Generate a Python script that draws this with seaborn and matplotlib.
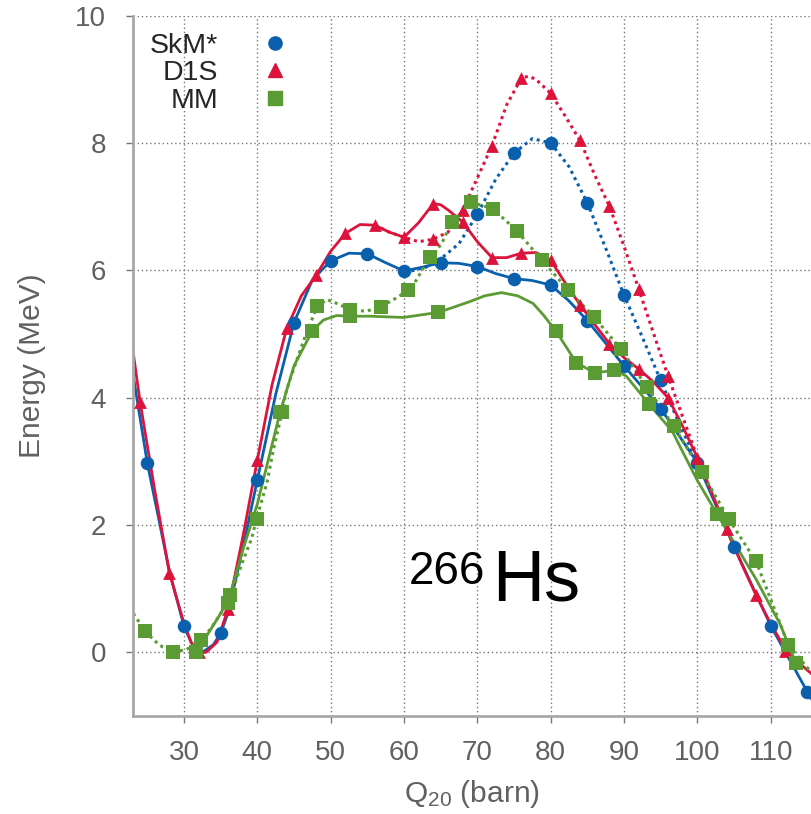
import seaborn as sns
import matplotlib.pyplot as plt
import pandas as pd
from matplotlib.lines import Line2D

# --- markers ---
skm_x = [25, 30, 35, 40, 45, 50, 55, 60, 65, 70, 75, 80, 85, 90, 95, 100, 105, 110, 115]
skm_y = [2.97, 0.41, 0.30, 2.71, 5.18, 6.15, 6.26, 5.99, 6.12, 6.06, 5.87, 5.77, 5.21, 4.50, 3.83, 2.98, 1.66, 0.42, -0.62]
skm_alt_x = [70, 75, 80, 85, 90, 95]
skm_alt_y = [6.88, 7.84, 8.00, 7.06, 5.61, 4.27]

d1s_x = [24, 28, 32, 36, 40, 44, 48, 52, 56, 60, 64, 68, 72, 76, 80, 84, 88, 92, 96, 100, 104, 108, 112]
d1s_y = [3.94, 1.25, 0.0, 0.68, 3.02, 5.09, 5.92, 6.58, 6.71, 6.52, 7.05, 6.76, 6.20, 6.27, 6.16, 5.46, 4.85, 4.45, 4.00, 3.06, 1.93, 0.90, 0.02]
d1s_alt_x = [64, 68, 72, 76, 80, 84, 88, 92, 96]
d1s_alt_y = [6.49, 6.95, 7.96, 9.02, 8.78, 8.04, 7.01, 5.71, 4.34]

mm_x = [31.7, 36.3, 43.1, 47.5, 52.7, 64.7, 80.7, 83.5, 86.0, 88.7, 93.4, 102.7, 113.4]
mm_y = [0.0, 0.90, 3.77, 5.05, 5.28, 5.35, 5.05, 4.55, 4.39, 4.43, 3.90, 2.17, -0.16]
mm_alt_x = [24.7, 28.5, 32.3, 36.0, 39.9, 43.4, 48.2, 52.7, 56.9, 60.6, 63.5, 66.5, 69.1, 72.1,
            75.4, 78.8, 82.4, 85.9, 89.6, 93.1, 96.8, 100.6, 104.3, 108.0, 112.4]
mm_alt_y = [0.33, 0.01, 0.19, 0.77, 2.10, 3.78, 5.44, 5.37, 5.43, 5.69, 6.21, 6.76, 7.07, 6.97,
            6.62, 6.16, 5.69, 5.27, 4.76, 4.17, 3.55, 2.83, 2.09, 1.43, 0.12]

# --- curves ---
skm_line_x = [23, 25, 28, 30, 31, 32.5, 34, 35, 36, 38, 40, 42.5, 45, 47.5, 50, 52.5, 55, 57.5, 60, 62.5,
              65, 67.5, 70, 72.5, 75, 77.5, 80, 82.5, 85, 90, 95, 100, 105, 110, 115, 116]
skm_line_y = [4.40, 2.97, 1.28, 0.41, 0.15, 0.0, 0.12, 0.30, 0.62, 1.62, 2.71, 4.05, 5.18, 5.85, 6.15, 6.27,
              6.26, 6.12, 5.99, 6.05, 6.12, 6.11, 6.06, 5.95, 5.87, 5.84, 5.77, 5.52, 5.21, 4.50, 3.83,
              2.98, 1.66, 0.42, -0.62, -0.82]
skm_dot_x = [61, 63, 65, 67.5, 70, 72.5, 75, 77.5, 80, 82.5, 85, 87.5, 90, 92.5, 95, 97.5, 100]
skm_dot_y = [5.99, 6.05, 6.18, 6.42, 6.88, 7.43, 7.84, 8.07, 8.00, 7.63, 7.06, 6.35, 5.61, 4.95, 4.27, 3.6, 2.98]

d1s_line_x = [23, 24, 26, 28, 30, 31, 32, 33, 34.5, 36, 38, 40, 42, 44, 46, 48, 50, 52, 54, 56, 58, 60,
              62, 64, 65, 66, 68, 70, 72, 74, 76, 78, 80, 82, 84, 86, 88, 90, 92, 94, 96, 98, 100,
              102, 104, 106, 108, 110, 112, 114, 116]
d1s_line_y = [4.77, 3.94, 2.55, 1.25, 0.45, 0.15, 0.0, 0.0, 0.16, 0.68, 1.8, 3.02, 4.2, 5.09, 5.6, 5.92,
              6.3, 6.58, 6.72, 6.71, 6.6, 6.52, 6.75, 7.05, 7.03, 6.95, 6.76, 6.45, 6.20, 6.20, 6.27,
              6.28, 6.16, 5.8, 5.46, 5.15, 4.85, 4.63, 4.45, 4.25, 4.00, 3.55, 3.06, 2.5, 1.93, 1.4,
              0.90, 0.45, 0.05, -0.18, -0.38]
d1s_dot_x = [56, 58, 60, 62, 64, 66, 68, 70, 72, 74, 76, 77, 78, 80, 82, 84, 86, 88, 90, 92, 94, 96, 98, 100]
d1s_dot_y = [6.71, 6.6, 6.52, 6.45, 6.49, 6.6, 6.95, 7.45, 7.96, 8.6, 9.02, 9.05, 9.0, 8.78, 8.42, 8.04,
             7.5, 7.01, 6.38, 5.71, 5.02, 4.34, 3.7, 3.06]

mm_line_x = [31.7, 33.8, 35.1, 36.3, 38, 40, 43.1, 45, 47.5, 49, 50.8, 52.7, 55.3, 59.9, 64.7, 69, 71,
             73.3, 75.5, 77.6, 79, 80.7, 83.5, 86.0, 88.7, 90.3, 93.4, 96.6, 98, 100, 102.7, 105.3,
             108, 111.3, 113.4]
mm_line_y = [0.0, 0.39, 0.63, 0.91, 1.6, 2.33, 3.77, 4.5, 5.05, 5.22, 5.29, 5.28, 5.28, 5.26, 5.34, 5.51,
             5.6, 5.65, 5.6, 5.48, 5.3, 5.05, 4.55, 4.39, 4.43, 4.34, 3.90, 3.47, 3.15, 2.70, 2.17,
             1.67, 1.15, 0.44, -0.16]
mm_dot_x = [23.1, 24.7, 26, 27, 28.5, 30.3, 32.3, 33.7, 35, 36, 38.1, 39.2, 39.9, 41.3, 42.2, 43.4, 44,
            45.4, 46.7, 48.2, 49.5, 51.3, 52.7, 54.9, 56.9, 59, 60.6, 61.7, 63.5, 64.4, 65.3, 66.5,
            69.1, 72.1, 75.4, 78.8, 82.4, 85.9, 89.6, 93.1, 96.8, 100.6, 104.3, 108.0, 112.4, 115.5]
mm_dot_y = [0.61, 0.33, 0.18, 0.09, 0.01, 0.04, 0.19, 0.38, 0.61, 0.77, 1.46, 1.78, 2.10, 2.66, 3.19,
            3.78, 4.13, 4.60, 5.02, 5.44, 5.54, 5.46, 5.37, 5.36, 5.43, 5.57, 5.69, 5.85, 6.21, 6.30,
            6.46, 6.76, 7.07, 6.97, 6.62, 6.16, 5.69, 5.27, 4.76, 4.17, 3.55, 2.83, 2.09, 1.43, 0.12, -0.31]

names = ["SkM*", "D1S", "MM"]
colors = {"SkM*": "#0a60ad", "D1S": "#dc143c", "MM": "#5b9b34"}
markers = {"SkM*": "o", "D1S": "^", "MM": "s"}

sns.set_style("white")
plt.rcParams["font.family"] = ["Liberation Sans", "DejaVu Sans"]
plt.rcParams["mathtext.fontset"] = "custom"
plt.rcParams["mathtext.rm"] = "Liberation Sans"
plt.rcParams["mathtext.it"] = "Liberation Sans:italic"

fig = plt.figure(figsize=(8.11, 8.14), dpi=100)
ax = fig.add_axes([0.1636, 0.1204, 0.8364, 0.8603])

# dotted = alternative path, solid = main path
dot_style = (0, (1, 1.3))
curves = [
    ("SkM*", skm_line_x, skm_line_y, skm_dot_x, skm_dot_y),
    ("D1S", d1s_line_x, d1s_line_y, d1s_dot_x, d1s_dot_y),
    ("MM", mm_line_x, mm_line_y, mm_dot_x, mm_dot_y),
]
for name, lx, ly, dx, dy in curves:
    sns.lineplot(x=dx, y=dy, sort=False, estimator=None, color=colors[name],
                 linewidth=2.2, linestyle=dot_style, ax=ax)
    sns.lineplot(x=lx, y=ly, sort=False, estimator=None, color=colors[name],
                 linewidth=2.0, ax=ax)

pts = pd.concat([
    pd.DataFrame({"q": skm_x + skm_alt_x, "e": skm_y + skm_alt_y, "set": "SkM*"}),
    pd.DataFrame({"q": d1s_x + d1s_alt_x, "e": d1s_y + d1s_alt_y, "set": "D1S"}),
    pd.DataFrame({"q": mm_x + mm_alt_x, "e": mm_y + mm_alt_y, "set": "MM"}),
])
sizes = {"SkM*": 95, "D1S": 85, "MM": 95}
for name in names:
    sub = pts[pts["set"] == name]
    sns.scatterplot(data=sub, x="q", y="e", color=colors[name], marker=markers[name],
                    s=sizes[name], linewidth=0, ax=ax, zorder=3)

ax.set_xlim(23, 115.5)
ax.set_ylim(-1, 10)
ax.set_xticks(range(30, 111, 10))
ax.set_yticks(range(0, 11, 2))
ax.grid(True, color="#777777", linestyle=(0, (1, 2)), linewidth=1.0)
for s in ["top", "right"]:
    ax.spines[s].set_visible(False)
for s in ["left", "bottom"]:
    ax.spines[s].set_color("#a8a8a8")
    ax.spines[s].set_linewidth(2)
ax.tick_params(axis="both", labelsize=20, labelcolor="#606060", color="#777777",
               direction="out", length=5, width=1)
ax.tick_params(axis="y", left=True, pad=14)
ax.tick_params(axis="x", bottom=True, pad=12)
ax.set_xlabel("Q$_{20}$ (barn)", fontsize=21.5, color="#606060", labelpad=9)
ax.set_ylabel("Energy (MeV)", fontsize=21.5, color="#606060", labelpad=21)

ax.text(71.0, 1.07, "266", fontsize=33, ha="right", va="baseline", color="black")
ax.text(72.0, 0.82, "Hs", fontsize=52, ha="left", va="baseline", color="black")

handles = [Line2D([], [], linestyle="none", marker=markers[n], color=colors[n], markersize=9.5)
           for n in names]
ax.legend(handles, names, loc="upper left", bbox_to_anchor=(0.0, 1.0), frameon=False,
          markerfirst=False, fontsize=20.5, labelspacing=0.05, handletextpad=1.0,
          borderaxespad=0.2)

fig.savefig("out.png", dpi=100)
